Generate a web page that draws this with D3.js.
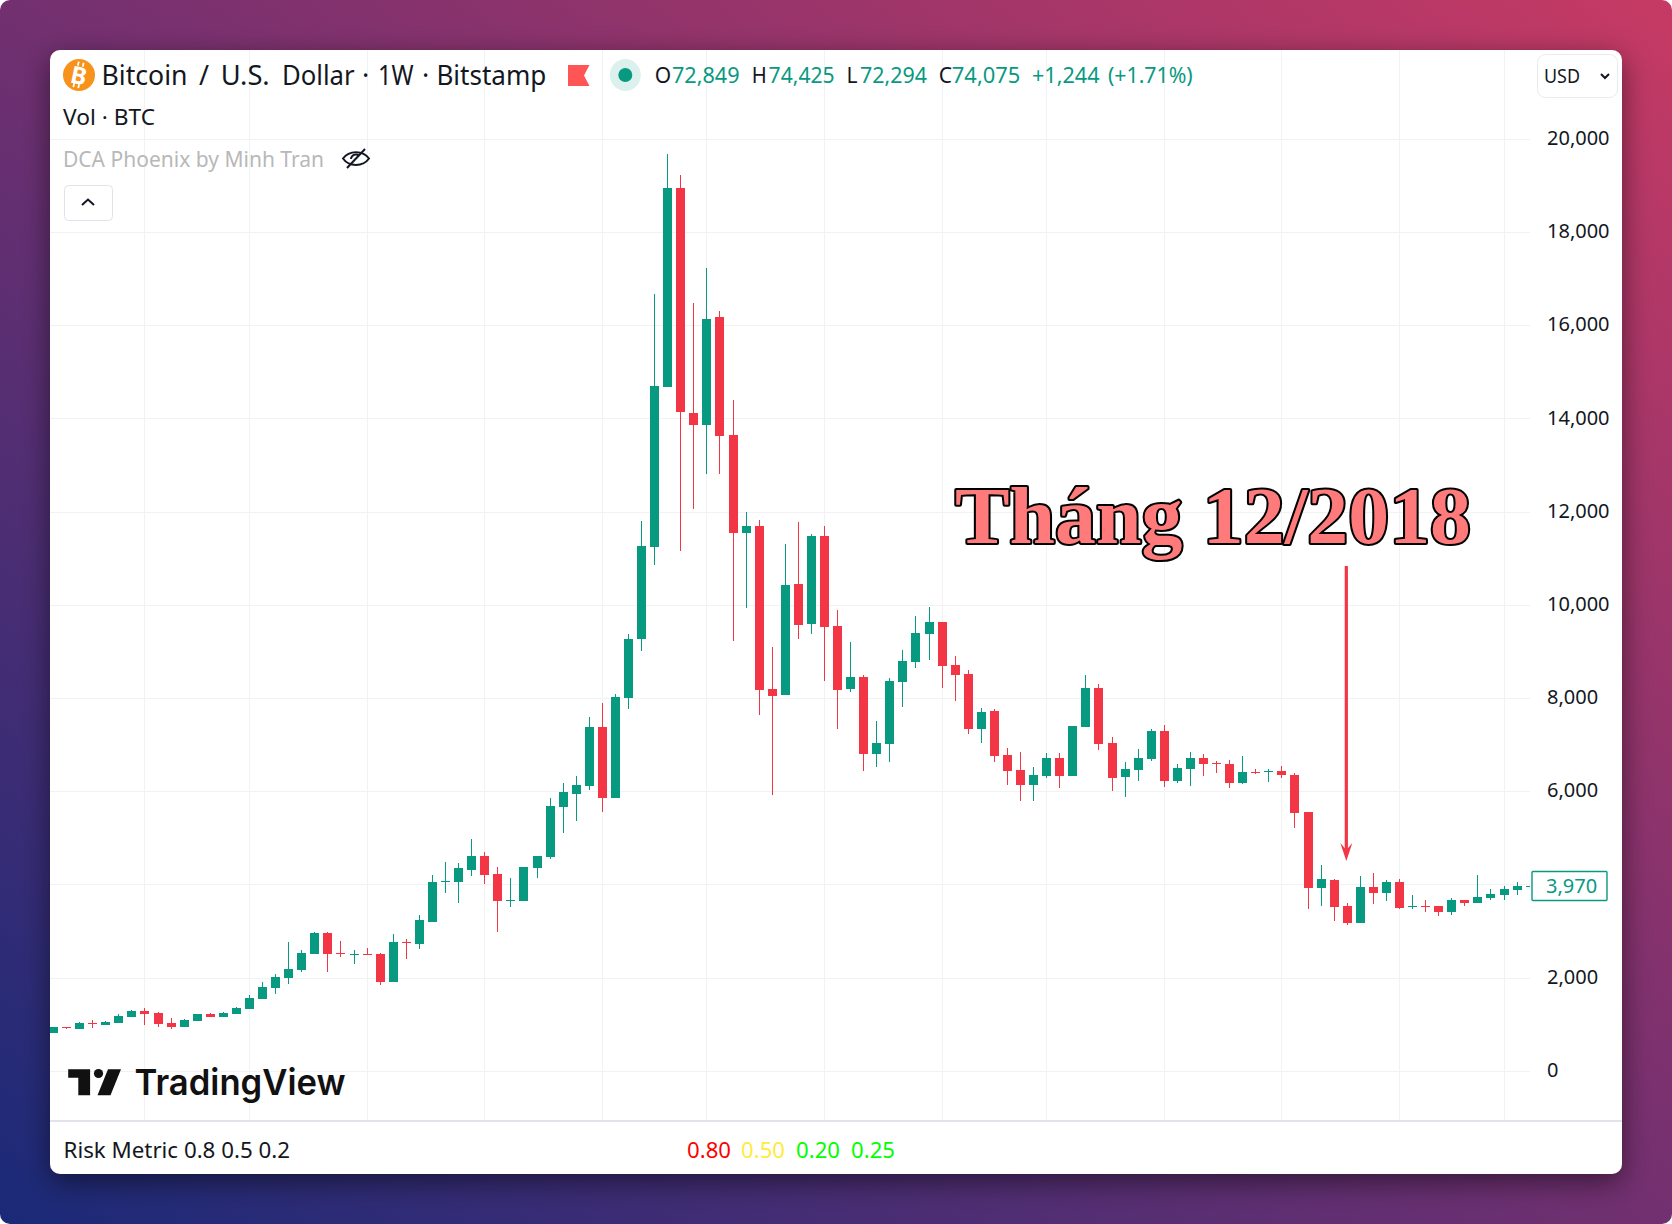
<!DOCTYPE html>
<html>
<head>
<meta charset="utf-8">
<script src="https://cdn.jsdelivr.net/npm/d3@7"></script>
<style>
html,body{margin:0;padding:0;background:#fff;}
svg{display:block;font-family:"Noto Sans",sans-serif;}
</style>
</head>
<body>
<div id="chart"></div>
<script>
// ---- data (BTC/USD weekly, Bitstamp) ----
const opens = [822,951,908,1036,993,1036,1165,1294,1251,1036,951,1079,1230,1165,1230,1337,1552,1787,2002,2174,2517,2968,2539,2496,2517,2517,1916,2775,2732,3204,
4063,4063,4320,4621,4234,3655,3655,4363,4599,5672,5951,6123,7389,5865,8011,9277,11251,14685,18955,14127,13869,16187,13655,11552,11702,8204,8075,10457,9599,11487,
9556,8204,8462,6809,7024,8354,8783,9384,9642,8719,8526,7346,7732,6788,6466,6144,6337,6723,6337,7389,8225,7045,6316,6466,6702,7303,6230,6487,6723,6616,
6595,6187,6423,6423,6445,6359,5565,3934,4106,3548,3183,3956,3827,4063,3526,3548,3548,3419,3677,3612,3719,3784,3891,3950];
const highs = [951,951,1058,1101,1079,1230,1315,1358,1273,1144,1122,1230,1251,1273,1380,1637,1916,2088,2775,2603,2989,2989,2796,2603,2646,2539,2946,2839,3354,4212,
4492,4470,4985,4707,4385,4149,4385,4621,5865,6187,6337,7603,7904,8097,9385,11809,16680,19685,19234,16487,17238,16315,14406,12002,11831,9105,11316,11788,11530,11702,
9899,9213,8504,7517,8440,9041,9771,9964,9642,8912,8612,7796,7775,6938,6852,6530,6831,6831,7410,8504,8311,7174,6637,6916,7346,7431,6595,6852,6809,6659,
6680,6766,6487,6487,6552,6402,5565,4428,4127,3612,4192,4256,4106,4127,3784,3677,3548,3719,3677,4213,3913,3977,4063,3990];
const lows = [822,908,908,929,993,1036,1165,993,951,908,951,1079,1165,1165,1230,1337,1552,1659,1873,2131,2517,2131,2453,2303,2496,1852,1916,2410,2624,3204,
3827,3612,4191,4020,2990,3526,3655,4149,4556,5114,5372,6037,5565,5865,7775,9019,10865,14685,11165,12067,12818,12818,9234,9942,7646,5929,8075,9277,9384,8376,
7346,8140,6444,6530,6638,7818,8655,8826,8225,7946,7238,7045,6637,6144,5801,5801,6294,6079,6337,7389,6895,6015,5886,6230,6659,6101,6187,6122,6337,6401,
6079,6165,6380,6208,6295,5222,3483,3548,3226,3140,3183,3591,3655,3483,3483,3419,3333,3355,3548,3612,3677,3677,3784,3940];
const closes = [951,929,1036,1015,1058,1187,1294,1230,1015,951,1101,1230,1165,1251,1358,1573,1809,2024,2195,2539,2968,2517,2517,2517,2496,1916,2775,2753,3247,4062,
4084,4363,4621,4213,3655,3676,4385,4621,5694,5994,6144,7389,5865,8033,9277,11273,14706,18955,14148,13869,16144,13633,11552,11702,8183,8054,10436,9577,11487,9535,
8183,8462,6809,7045,8376,8805,9406,9642,8698,8504,7346,7710,6766,6444,6144,6358,6723,6337,7410,8225,7024,6294,6487,6723,7303,6230,6509,6723,6595,6595,
6187,6423,6401,6444,6359,5543,3934,4127,3526,3183,3956,3827,4063,3505,3548,3526,3419,3677,3612,3741,3805,3913,3977,3970];

const priceTicks = [0,2000,4000,6000,8000,10000,12000,14000,16000,18000,20000];
const monthStartBars = [7,15,24,33,42,50,59,68,76,85,94,103,111];

const titleWords = ["Bitcoin","/","U.S.","Dollar","·","1W","·","Bitstamp"];
const ohlcLabels = ["O","H","L","C"];
const ohlcValues = ["72,849","74,425","72,294","74,075"];
const changeText = "+1,244";
const changePctText = "(+1.71%)";
const riskValues = ["0.80","0.50","0.20","0.25"];
const riskColors = ["#ff0000","#ffeb3b","#00ff00","#00ff00"];
const lastPrice = 3970;
const arrowFromPrice = 10844, arrowToPrice = 4750, arrowBar = 98.93;

// ---- layout and colours ----
const W = 1672, H = 1224;
const panel = {x:50, y:50, w:1572, h:1124};
const pane = {l:50, r:1530, t:50, b:1120};
const UP = "#089981", DOWN = "#F23645", GRID = "#f1f2f4", INK = "#131722";

const x = d3.scaleLinear().domain([0,113]).range([53.5, 53.5 + 113*13.068]);
const y = d3.scaleLinear().domain([0,20000]).range([1071.3,139.3]);

const svg = d3.select("#chart").append("svg").attr("width",W).attr("height",H);
const defs = svg.append("defs");

const bg = defs.append("linearGradient").attr("id","bg").attr("gradientUnits","userSpaceOnUse")
  .attr("x1",252.5).attr("y1",1409).attr("x2",1419.5).attr("y2",-185);
bg.append("stop").attr("offset",0).attr("stop-color","#1a2a78");
bg.append("stop").attr("offset",.5).attr("stop-color","#723070");
bg.append("stop").attr("offset",1).attr("stop-color","#c63a64");

const f = defs.append("filter").attr("id","sh").attr("x","-10%").attr("y","-10%").attr("width","120%").attr("height","120%");
f.append("feDropShadow").attr("dx",0).attr("dy",8).attr("stdDeviation",14).attr("flood-color","#000").attr("flood-opacity",.5);

defs.append("clipPath").attr("id","paneClip").append("rect")
  .attr("x",pane.l).attr("y",pane.t).attr("width",pane.r-pane.l).attr("height",pane.b-pane.t);

// background and card
svg.append("rect").attr("width",W).attr("height",H).attr("rx",10).attr("fill","url(#bg)");
svg.append("rect").attr("x",panel.x).attr("y",panel.y).attr("width",panel.w).attr("height",panel.h)
  .attr("rx",10).attr("fill","#fff").attr("filter","url(#sh)");

// grid
const grid = svg.append("g").attr("clip-path","url(#paneClip)");
grid.selectAll("line.h").data(priceTicks).join("line").attr("class","h")
  .attr("x1",pane.l).attr("x2",pane.r)
  .attr("y1",d=>Math.floor(y(d))+.5).attr("y2",d=>Math.floor(y(d))+.5)
  .attr("stroke",GRID);
grid.selectAll("line.v").data(monthStartBars).join("line").attr("class","v")
  .attr("x1",d=>Math.floor(x(d))+.5).attr("x2",d=>Math.floor(x(d))+.5)
  .attr("y1",pane.t).attr("y2",pane.b)
  .attr("stroke",GRID);

// separator under pane
svg.append("rect").attr("x",panel.x).attr("y",pane.b).attr("width",panel.w).attr("height",2).attr("fill","#e0e3eb");

// candles
const bars = d3.range(opens.length);
const colorOf = i => closes[i] >= opens[i] ? UP : DOWN;
const candles = svg.append("g").attr("clip-path","url(#paneClip)");
candles.selectAll("rect.wick").data(bars).join("rect").attr("class","wick")
  .attr("x",i=>Math.floor(x(i))).attr("width",1)
  .attr("y",i=>Math.round(y(highs[i])))
  .attr("height",i=>Math.max(1,Math.round(y(lows[i]))-Math.round(y(highs[i]))))
  .attr("fill",colorOf);
candles.selectAll("rect.body").data(bars).join("rect").attr("class","body")
  .attr("x",i=>Math.floor(x(i))-4).attr("width",9)
  .attr("y",i=>Math.round(y(Math.max(opens[i],closes[i]))))
  .attr("height",i=>Math.max(1,Math.round(y(Math.min(opens[i],closes[i])))-Math.round(y(Math.max(opens[i],closes[i])))))
  .attr("fill",colorOf);

// price axis
const axisG = svg.append("g").attr("transform","translate(1547,0)")
  .call(d3.axisRight(y).tickValues(priceTicks).tickFormat(d3.format(",")).tickSize(0).tickPadding(0));
axisG.select(".domain").remove();
axisG.selectAll("text").style("font-family","'Noto Sans',sans-serif").attr("font-size",20).attr("fill",INK).attr("text-anchor","start").attr("dy",null).attr("y",5.2);

// last price label
const lp = svg.append("g");
lp.append("rect").attr("x",1532).attr("y",Math.round(y(lastPrice))-14.5).attr("width",75).attr("height",29)
  .attr("fill","#fff").attr("stroke",UP).attr("stroke-width",1.4).attr("rx",1);
lp.append("text").attr("x",1546).attr("y",Math.round(y(lastPrice))+7).attr("font-size",20).attr("fill",UP).text(d3.format(",")(lastPrice));

// helper for fitted text
function txt(s,xp,yp,size,color,len,extra){
  const t = svg.append("text").attr("x",xp).attr("y",yp).attr("font-size",size).attr("fill",color).text(s);
  if(len) t.attr("textLength",len).attr("lengthAdjust","spacingAndGlyphs");
  if(extra) extra(t);
  return t;
}

// header
svg.append("circle").attr("cx",79).attr("cy",75).attr("r",16).attr("fill","#F7931A");
svg.append("text").attr("x",79).attr("y",84).attr("text-anchor","middle").attr("font-size",24).attr("font-weight",700)
  .attr("fill","#fff").attr("transform","rotate(12 79 75)").text("B");
svg.append("path").attr("d","M76 62v4M81 62v4M76 84v4M81 84v4").attr("stroke","#fff").attr("stroke-width",1.8).attr("transform","rotate(12 79 75)");

const titleX = [101.5,199,220.7,282,362,378,422,436.4];
const titleLen = [86,10,49,72.6,null,35.6,null,110];
titleWords.forEach((w,i)=>txt(w,titleX[i],85,27,INK,titleLen[i]));
txt("Vol · BTC",63,125,21,INK,92);
txt("DCA Phoenix by Minh Tran",63,167,21,"#b8b8b8",261);

// flag and status dot
svg.append("path").attr("d","M568 65H589.5L584 75.5L589.5 86H568Z").attr("fill","#ff5555");
svg.append("ellipse").attr("cx",625.3).attr("cy",75).attr("rx",15.5).attr("ry",16).attr("fill","#dcf1ee");
svg.append("circle").attr("cx",625.3).attr("cy",75).attr("r",7).attr("fill",UP);

// OHLC
const ohlcLabelX = [654.7,751.8,846.5,938.8], ohlcValueX = [672,768.6,860,951.8], ohlcLen = [67.6,66,67,68.6];
ohlcLabels.forEach((l,i)=>{
  txt(l,ohlcLabelX[i],82.7,21,INK,l==="H"?15:l==="L"?11:null);
  txt(ohlcValues[i],ohlcValueX[i],82.7,21,UP,ohlcLen[i]);
});
txt(changeText,1032,82.7,21,UP,67.6);
txt(changePctText,1108,82.7,21,UP,84.7);

// eye icon
const eye = svg.append("g").attr("fill","none").attr("stroke",INK).attr("stroke-width",2);
eye.append("path").attr("d","M343 158.5C349 150 363 150 369 158.5C363 167 349 167 343 158.5Z");
eye.append("path").attr("d","M351 159a5 5 0 0 1 8-3.5");
eye.append("path").attr("d","M347 168L365 149");

// collapse button
svg.append("rect").attr("x",64.5).attr("y",185.5).attr("width",48).attr("height",35).attr("rx",4).attr("fill","#fff").attr("stroke","#e0e3eb");
svg.append("path").attr("d","M82 205L88 199.5L94 205").attr("fill","none").attr("stroke",INK).attr("stroke-width",2);

// USD selector
svg.append("rect").attr("x",1537.5).attr("y",54.5).attr("width",80).attr("height",43).attr("rx",8).attr("fill","#fff").attr("stroke","#e9ebf0");
txt("USD",1544,83.3,20,INK,36);
svg.append("path").attr("d","M1601 74L1605 78L1609 74").attr("fill","none").attr("stroke",INK).attr("stroke-width",2);

// TradingView mark
svg.append("path").attr("d","M68.2 1069.3H90.1V1095.3H78.3V1077.7H68.2Z").attr("fill","#111");
svg.append("circle").attr("cx",98.5).attr("cy",1073.5).attr("r",4.6).attr("fill","#111");
svg.append("path").attr("d","M108 1069.3H121L110.5 1095.3H97.5Z").attr("fill","#111");
txt("TradingView",134.5,1095,36,"#111",211,t=>t.style("font-family","Inter,sans-serif").attr("font-weight",600));

// bottom pane legend
txt("Risk Metric 0.8 0.5 0.2",63.5,1158,21,INK,226.5);
const riskX = [687,741,796,851];
riskValues.forEach((v,i)=>txt(v,riskX[i],1158,21,riskColors[i],44));

// annotation
txt("Tháng 12/2018",955,543,80,"#ff7b7b",516,t=>t
  .style("font-family","'Liberation Serif',serif").attr("font-weight",700).attr("stroke","#000").attr("stroke-width",4)
  .attr("stroke-linejoin","round").style("paint-order","stroke"));

const ax = x(arrowBar);
svg.append("rect").attr("x",ax-1.6).attr("y",y(arrowFromPrice)).attr("width",3.2).attr("height",y(arrowToPrice)-y(arrowFromPrice)).attr("fill",DOWN);
svg.append("path").attr("d",`M${ax-6} 843L${ax} 861L${ax+6} 843L${ax} 850Z`).attr("fill",DOWN);
</script>
</body>
</html>
